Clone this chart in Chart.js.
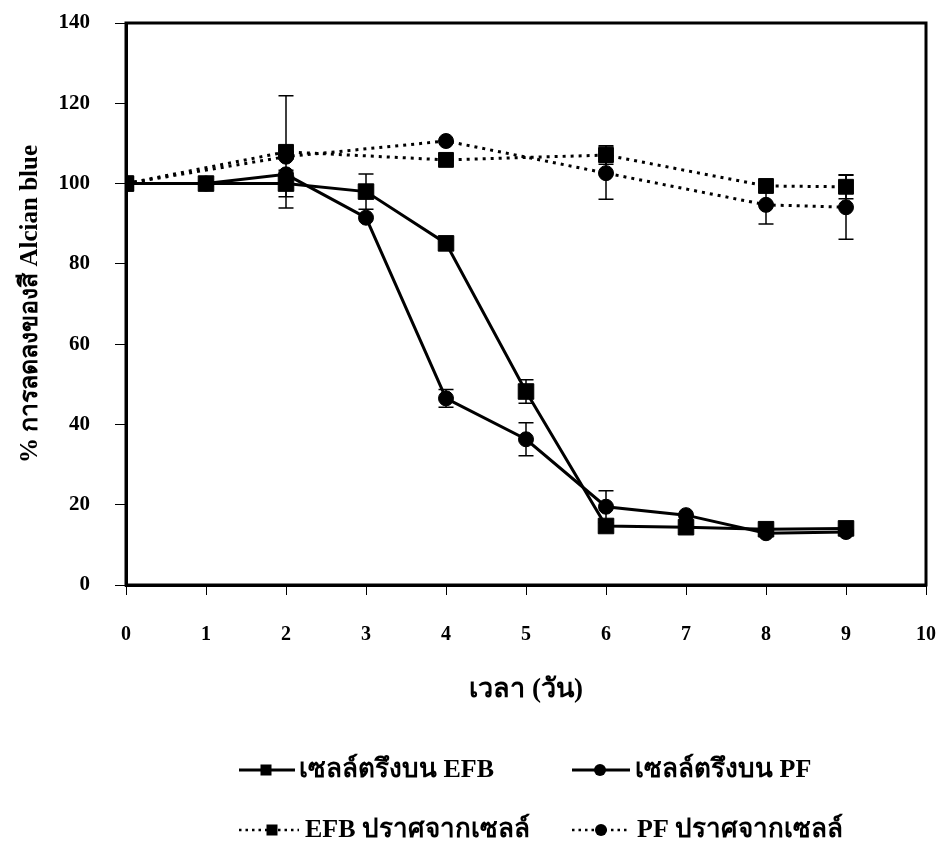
<!DOCTYPE html>
<html>
<head>
<meta charset="utf-8">
<script src="https://cdn.jsdelivr.net/npm/chart.js@4.4.1/dist/chart.umd.min.js"></script>
<style>
html,body{margin:0;padding:0;background:#fff;}
#wrap{width:939px;height:845px;position:relative;}
</style>
</head>
<body>
<div id="wrap"><canvas id="c" width="939" height="845"></canvas></div>
<script>
// ---- data ----
const days = [0, 1, 2, 3, 4, 5, 6, 7, 8, 9];
const efbCell = [100, 100, 100, 98, 85.1, 48.2, 14.7, 14.4, 13.9, 14.1];
const efbCellErr = [0, 0, 3.3, 4.4, 0, 2.9, 0, 0, 0, 0];
const pfCell = [100, 100, 102.3, 91.5, 46.5, 36.3, 19.5, 17.4, 12.9, 13.2];
const pfCellErr = [0, 0, 0, 0, 2.2, 4.1, 4, 0, 0, 0];
const daysFree = [0, 2, 4, 6, 8, 9];
const efbFree = [100, 107.9, 105.9, 107.1, 99.4, 99.2];
const efbFreeErr = [0, 14, 0, 2.3, 0, 3];
const pfFree = [100, 106.7, 110.6, 102.6, 94.7, 94.1];
const pfFreeErr = [0, 0, 0, 6.5, 4.8, 8];
const yTicks = [0, 20, 40, 60, 80, 100, 120, 140];
const xTicks = [0, 1, 2, 3, 4, 5, 6, 7, 8, 9, 10];
const seriesNames = ['เซลล์ตรึงบน EFB', 'เซลล์ตรึงบน PF', 'EFB ปราศจากเซลล์', 'PF ปราศจากเซลล์'];
const xTitle = 'เวลา (วัน)';
const yTitle = '% การลดลงของสี Alcian blue';

const FONT = '"Liberation Serif", "Times New Roman", serif';
const pts = (xs, ys) => xs.map((x, i) => ({x: x, y: ys[i]}));

const errData = [efbCellErr, pfCellErr, efbFreeErr, pfFreeErr];

const errorBars = {
  id: 'errorBars',
  beforeDatasetsDraw(chart) {
    const ctx = chart.ctx;
    const xs = chart.scales.x, ys = chart.scales.y;
    ctx.save();
    ctx.strokeStyle = '#000';
    ctx.lineWidth = 1.5;
    chart.data.datasets.forEach((ds, di) => {
      const errs = errData[di];
      ds.data.forEach((p, i) => {
        const e = errs[i];
        if (!e) return;
        const px = xs.getPixelForValue(p.x);
        const y1 = ys.getPixelForValue(p.y + e);
        const y2 = ys.getPixelForValue(p.y - e);
        ctx.beginPath();
        ctx.moveTo(px, y1); ctx.lineTo(px, y2);
        ctx.moveTo(px - 7.5, y1); ctx.lineTo(px + 7.5, y1);
        ctx.moveTo(px - 7.5, y2); ctx.lineTo(px + 7.5, y2);
        ctx.stroke();
      });
    });
    ctx.restore();
  }
};

const frame = {
  id: 'frame',
  afterDraw(chart) {
    const ctx = chart.ctx, a = chart.chartArea;
    ctx.save();
    ctx.strokeStyle = '#000';
    ctx.lineWidth = 3;
    ctx.strokeRect(a.left, a.top, a.right - a.left, a.bottom - a.top);
    ctx.restore();
  }
};

const legendItems = [
  {x0: 239, x1: 295, mx: 266, tx: 299, y: 770, style: 'rect', dashed: false, label: seriesNames[0]},
  {x0: 572, x1: 630, mx: 600, tx: 635, y: 770, style: 'circle', dashed: false, label: seriesNames[1]},
  {x0: 239, x1: 299, mx: 272, tx: 305, y: 830, style: 'rect', dashed: true, label: seriesNames[2]},
  {x0: 572, x1: 630, mx: 601, tx: 637, y: 830, style: 'circle', dashed: true, label: seriesNames[3]}
];

const customLegend = {
  id: 'customLegend',
  afterDraw(chart) {
    const ctx = chart.ctx;
    ctx.save();
    legendItems.forEach(it => {
      ctx.strokeStyle = '#000';
      ctx.fillStyle = '#000';
      ctx.lineWidth = it.dashed ? 2.5 : 3;
      ctx.setLineDash(it.dashed ? [2.5, 4] : []);
      ctx.beginPath();
      ctx.moveTo(it.x0, it.y); ctx.lineTo(it.x1, it.y);
      ctx.stroke();
      ctx.setLineDash([]);
      if (it.style === 'rect') {
        ctx.fillRect(it.mx - 5.5, it.y - 5.5, 11, 11);
      } else {
        ctx.beginPath();
        ctx.arc(it.mx, it.y, 6, 0, Math.PI * 2);
        ctx.fill();
      }
      ctx.font = 'bold 26px ' + FONT;
      ctx.textBaseline = 'middle';
      ctx.textAlign = 'left';
      ctx.fillText(it.label, it.tx, it.y);
    });
    ctx.restore();
  }
};

const common = {
  borderColor: '#000',
  backgroundColor: '#000',
  pointBackgroundColor: '#000',
  pointBorderColor: '#000',
  pointBorderWidth: 1,
  fill: false,
  tension: 0,
  showLine: true
};

new Chart(document.getElementById('c'), {
  type: 'scatter',
  data: {
    datasets: [
      Object.assign({}, common, {label: seriesNames[0], data: pts(days, efbCell), borderWidth: 3, pointStyle: 'rect', pointRadius: 11}),
      Object.assign({}, common, {label: seriesNames[1], data: pts(days, pfCell), borderWidth: 3, pointStyle: 'circle', pointRadius: 7.5}),
      Object.assign({}, common, {label: seriesNames[2], data: pts(daysFree, efbFree), borderWidth: 3, borderDash: [3, 5], pointStyle: 'rect', pointRadius: 10.5}),
      Object.assign({}, common, {label: seriesNames[3], data: pts(daysFree, pfFree), borderWidth: 3, borderDash: [3, 5], pointStyle: 'circle', pointRadius: 7.5})
    ]
  },
  options: {
    responsive: false,
    animation: false,
    events: [],
    layout: {padding: {left: 0, top: 23, right: 13, bottom: 0}},
    plugins: {legend: {display: false}, tooltip: {enabled: false}},
    scales: {
      x: {
        type: 'linear',
        min: 0, max: 10,
        afterBuildTicks(s) { s.ticks = xTicks.map(v => ({value: v})); },
        afterFit(s) { s.height = 260; s.paddingLeft = 0; s.paddingRight = 0; },
        grid: {drawOnChartArea: false, drawTicks: true, tickLength: 10, tickColor: '#000', tickWidth: 1},
        border: {display: true, color: '#000', width: 3},
        ticks: {color: '#000', padding: 28, font: {family: FONT, size: 20, weight: 'bold'}, maxRotation: 0},
        title: {display: true, text: xTitle, color: '#000', font: {family: FONT, size: 27, weight: 'bold'}, padding: {top: 0, bottom: 139}}
      },
      y: {
        type: 'linear',
        min: 0, max: 140,
        afterBuildTicks(s) { s.ticks = yTicks.map(v => ({value: v})); },
        afterFit(s) { s.width = 126; s.paddingTop = 0; s.paddingBottom = 0; },
        grid: {drawOnChartArea: false, drawTicks: true, tickLength: 11, tickColor: '#000', tickWidth: 1},
        border: {display: true, color: '#000', width: 3},
        ticks: {color: '#000', padding: 25, font: {family: FONT, size: 21, weight: 'bold'}},
        title: {display: true, text: yTitle, color: '#000', font: {family: FONT, size: 25, weight: 'bold'}, padding: {top: 16, bottom: 0}}
      }
    }
  },
  plugins: [errorBars, frame, customLegend]
});
</script>
</body>
</html>
